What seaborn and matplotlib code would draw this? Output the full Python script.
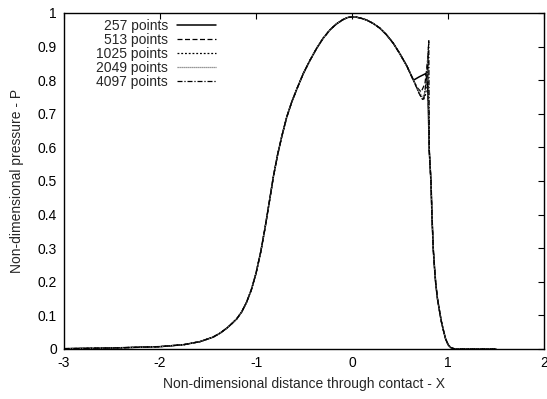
import matplotlib
matplotlib.use("Agg")
import matplotlib.pyplot as plt
from matplotlib.ticker import FuncFormatter
import seaborn as sns
import pandas as pd

# ---- data ----
base_x = [-3.0, -2.5, -2.0, -1.75, -1.583, -1.45, -1.375, -1.3, -1.25, -1.2, -1.15,
          -1.1, -1.05, -1.0, -0.95, -0.906, -0.86, -0.819, -0.775, -0.732, -0.68,
          -0.628, -0.57, -0.507, -0.44, -0.368, -0.3, -0.229, -0.16, -0.09, -0.04,
          0.0, 0.04, 0.1, 0.153, 0.22, 0.29, 0.36, 0.43, 0.5, 0.57]
base_p = [0.001, 0.003, 0.007, 0.013, 0.022, 0.035, 0.047, 0.063, 0.076, 0.090, 0.110,
          0.138, 0.175, 0.225, 0.290, 0.360, 0.440, 0.513, 0.578, 0.632, 0.690,
          0.735, 0.777, 0.820, 0.858, 0.895, 0.925, 0.950, 0.968, 0.981, 0.987,
          0.988, 0.988, 0.984, 0.979, 0.969, 0.955, 0.935, 0.910, 0.878, 0.843]

drop_x = [0.823, 0.833, 0.847, 0.86, 0.872, 0.89, 0.91, 0.93, 0.951, 0.975, 1.003,
          1.03, 1.06, 1.09, 1.5]
drop_p = [0.496, 0.397, 0.295, 0.240, 0.196, 0.150, 0.116, 0.083, 0.057, 0.030, 0.012,
          0.004, 0.001, 0.0, 0.0]

tail_257_x = [0.64, 0.70, 0.77, 0.79, 0.805]
tail_257_p = [0.800, 0.810, 0.820, 0.780, 0.590]
tail_513_x = [0.64, 0.68, 0.72, 0.76, 0.785, 0.80, 0.805]
tail_513_p = [0.800, 0.778, 0.765, 0.790, 0.850, 0.680, 0.590]
tail_1025_x = [0.64, 0.70, 0.74, 0.77, 0.79, 0.80, 0.805]
tail_1025_p = [0.800, 0.760, 0.740, 0.760, 0.880, 0.700, 0.590]
tail_2049_x = [0.64, 0.70, 0.745, 0.78, 0.795, 0.805]
tail_2049_p = [0.800, 0.765, 0.745, 0.800, 0.900, 0.590]
tail_4097_x = [0.64, 0.70, 0.745, 0.785, 0.80, 0.805]
tail_4097_p = [0.800, 0.760, 0.740, 0.820, 0.920, 0.590]

labels = ["257 points", "513 points", "1025 points", "2049 points", "4097 points"]
tails = [(tail_257_x, tail_257_p), (tail_513_x, tail_513_p), (tail_1025_x, tail_1025_p),
         (tail_2049_x, tail_2049_p), (tail_4097_x, tail_4097_p)]

x_ticks = [-3, -2, -1, 0, 1, 2]
y_ticks = [0, 0.1, 0.2, 0.3, 0.4, 0.5, 0.6, 0.7, 0.8, 0.9, 1.0]

# ---- style ----
sns.set_theme(style="white")
plt.rcParams["font.family"] = ["Liberation Sans", "DejaVu Sans"]
plt.rcParams["axes.unicode_minus"] = False

styles = [
    dict(color="black", linestyle="-", linewidth=1.1),
    dict(color="black", linestyle=(0, (4, 2)), linewidth=0.9),
    dict(color="black", linestyle=(0, (1.5, 1.5)), linewidth=0.9),
    dict(color="#777777", linestyle=(0, (1, 0.6)), linewidth=0.9),
    dict(color="black", linestyle=(0, (4, 1.5, 1, 1.5)), linewidth=0.9),
]

fig = plt.figure(figsize=(5.47, 3.99), dpi=100)
ax = fig.add_axes([64 / 547, 1 - 349 / 399, 480 / 547, 336 / 399])

for lab, (tx, tp), st in zip(labels, tails, styles):
    df = pd.DataFrame({"X": base_x + tx + drop_x, "P": base_p + tp + drop_p})
    sns.lineplot(data=df, x="X", y="P", ax=ax, label=lab, sort=False,
                 estimator=None, **st)

ax.set_xlim(-3, 2)
ax.set_ylim(0, 1)
ax.set_xticks(x_ticks)
ax.set_yticks(y_ticks)
fmt = FuncFormatter(lambda v, p: "%g" % round(v, 2))
ax.xaxis.set_major_formatter(fmt)
ax.yaxis.set_major_formatter(fmt)
ax.tick_params(direction="in", length=4, width=0.8, top=True, right=True,
               labelsize=10, colors="black", pad=5)
for s in ax.spines.values():
    s.set_color("black")
    s.set_linewidth(1.0)

ax.set_xlabel("Non-dimensional distance through contact - X", fontsize=10, labelpad=5)
ax.set_ylabel("Non-dimensional pressure - P", fontsize=10, labelpad=10)

leg = ax.legend(loc="upper left", bbox_to_anchor=(26 / 480, 1.0), frameon=False,
                markerfirst=False, fontsize=10, handlelength=2.8,
                handletextpad=0.65, labelspacing=-0.01, borderpad=0.45,
                borderaxespad=0.0)
for col in leg._legend_handle_box.get_children():
    col.align = "right"

fig.savefig("out.png", dpi=100)
